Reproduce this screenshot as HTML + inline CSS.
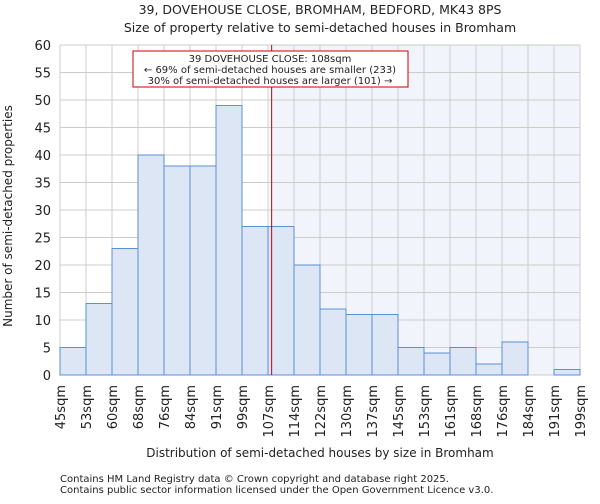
<!DOCTYPE html>
<html><head><meta charset="utf-8"><style>
body{margin:0;background:#fff;font-family:"DejaVu Sans","Liberation Sans",sans-serif;}
svg text{font-family:"DejaVu Sans","Liberation Sans",sans-serif;fill:#222;}
</style></head><body>
<svg id="c" width="600" height="500">
<text x="320" y="14" font-size="12.5" text-anchor="middle">39, DOVEHOUSE CLOSE, BROMHAM, BEDFORD, MK43 8PS</text>
<text x="320" y="32" font-size="12.5" text-anchor="middle">Size of property relative to semi-detached houses in Bromham</text>
<g id="plot"></g>
<text x="320" y="457" font-size="12" text-anchor="middle">Distribution of semi-detached houses by size in Bromham</text>
<text transform="translate(12,216) rotate(-90)" font-size="12" text-anchor="middle">Number of semi-detached properties</text>
<text x="60" y="482" font-size="10">Contains HM Land Registry data © Crown copyright and database right 2025.</text>
<text x="60" y="493" font-size="10">Contains public sector information licensed under the Open Government Licence v3.0.</text>
</svg>
<script>
const labels=["45sqm","53sqm","60sqm","68sqm","76sqm","84sqm","91sqm","99sqm","107sqm","114sqm","122sqm","130sqm","137sqm","145sqm","153sqm","161sqm","168sqm","176sqm","184sqm","191sqm","199sqm"];
const counts=[5,13,23,40,38,38,49,27,27,20,12,11,11,5,4,5,2,6,0,1];
const yTicks=[0,5,10,15,20,25,30,35,40,45,50,55,60];
const propertyBin=8.14;
const NS="http://www.w3.org/2000/svg";
const L=60,R=580,T=45,B=375,yMax=60;
const bw=(R-L)/counts.length;
const X=i=>L+i*bw;
const Y=v=>B-(v/yMax)*(B-T);
const g=document.getElementById('plot');
function mk(t,a){const e=document.createElementNS(NS,t);for(const k in a)e.setAttribute(k,a[k]);g.appendChild(e);return e;}
const px=X(propertyBin);
let e=mk('rect',{x:px,y:T,width:R-px,height:B-T,fill:'#f2f4fb'});


for(let i=0;i<labels.length;i++){e=mk('line',{x1:X(i),x2:X(i),y1:T,y2:B,stroke:'#ccc','stroke-width':1});

}
yTicks.forEach(v=>{e=mk('line',{x1:L,x2:R,y1:Y(v),y2:Y(v),stroke:'#ccc','stroke-width':1});


e=mk('text',{x:L-9,y:Y(v)+5,'font-size':13,'text-anchor':'end'});e.textContent=v;

});
counts.forEach((v,i)=>{if(v<=0)return;e=mk('rect',{x:X(i),y:Y(v),width:bw,height:B-Y(v),fill:'#dce6f4',stroke:'#5b8fd6','stroke-width':1});

});
labels.forEach((l,i)=>{e=mk('text',{transform:`translate(${X(i)+5},${B+10}) rotate(-90)`,'font-size':13,'text-anchor':'end'});e.textContent=l;

});
e=mk('line',{x1:px,x2:px,y1:T,y2:B,stroke:'#c00','stroke-width':1});


e=mk('rect',{x:133,y:51,width:275,height:36,fill:'#fff',stroke:'#c00','stroke-width':1});


["39 DOVEHOUSE CLOSE: 108sqm","← 69% of semi-detached houses are smaller (233)","30% of semi-detached houses are larger (101) →"].forEach((t,k)=>{e=mk('text',{x:270,y:62+k*11,'font-size':10,'text-anchor':'middle'});e.textContent=t;

});
</script>
</body></html>
